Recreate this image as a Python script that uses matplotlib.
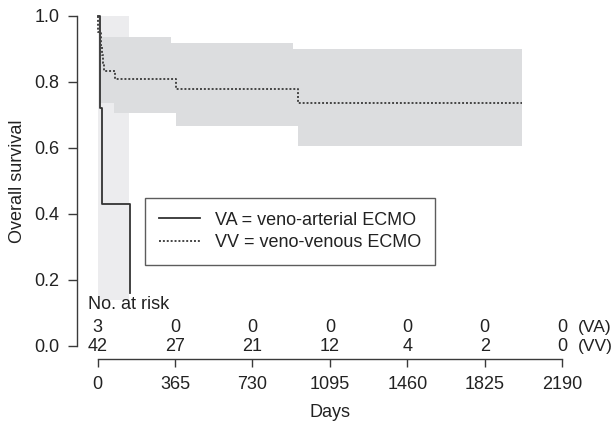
import numpy as np
import matplotlib.pyplot as plt

plt.rcParams['font.family'] = ['Liberation Sans', 'DejaVu Sans']

# Kaplan-Meier steps (days, survival)
va_days = [0, 11, 19, 153]
va_surv = [1.0, 0.72, 0.43, 0.16]
va_band_days = [0, 148]
va_upper = [1.0, 1.0]
va_lower = [0.14, 0.14]

vv_days = [0, 3, 14, 18, 22, 26, 30, 80, 370, 945, 2000]
vv_surv = [1.0, 0.952, 0.929, 0.905, 0.881, 0.857, 0.833, 0.810, 0.778, 0.736, 0.736]
vv_band_days = [0, 5, 11, 77, 346, 370, 922, 945, 2000]
vv_upper = [1.0, 1.0, 0.936, 0.936, 0.918, 0.918, 0.900, 0.900, 0.900]
vv_lower = [1.0, 0.897, 0.735, 0.705, 0.705, 0.666, 0.666, 0.605, 0.605]

ticks_days = [0, 365, 730, 1095, 1460, 1825, 2190]
risk_va = [3, 0, 0, 0, 0, 0, 0]
risk_vv = [42, 27, 21, 12, 4, 2, 0]

fs = 13
txt = '#222222'

fig = plt.figure(figsize=(6.12, 4.24), dpi=100)
ax = fig.add_axes([0.1258, 0.1533, 0.8382, 0.8231])

ax.fill_between(va_band_days, va_lower, va_upper, step='post', color='#ececee', lw=0)
ax.fill_between(vv_band_days, vv_lower, vv_upper, step='post', color='#dcdddf', lw=0)

ax.step(va_days, va_surv, where='post', color='#333333', lw=1.3,
        label='VA = veno-arterial ECMO')
ax.step(vv_days, vv_surv, where='post', color='#444444', lw=1.4,
        linestyle=(0, (1.0, 1.0)), label='VV = veno-venous ECMO')

ax.set_xlim(-97, 2321)
ax.set_ylim(-0.04, 1.018)

for s in ['top', 'right']:
    ax.spines[s].set_visible(False)
ax.spines['left'].set_bounds(0, 1)
ax.spines['bottom'].set_bounds(0, 2190)
for s in ['left', 'bottom']:
    ax.spines[s].set_color('#3a3a3a')
    ax.spines[s].set_linewidth(1.0)

ax.set_yticks([0, 0.2, 0.4, 0.6, 0.8, 1.0])
ax.set_yticklabels(['0.0', '0.2', '0.4', '0.6', '0.8', '1.0'])
ax.set_xticks(ticks_days)
ax.tick_params(axis='both', colors='#3a3a3a', labelcolor=txt,
               labelsize=fs, width=1.0)
ax.tick_params(axis='y', length=6.5, pad=6)
ax.tick_params(axis='x', length=5.5, pad=7)

ax.set_ylabel('Overall survival', fontsize=fs, color=txt)
ax.yaxis.set_label_coords(-0.100, 0.51)
ax.set_xlabel('Days', fontsize=fs, color=txt)
ax.xaxis.set_label_coords(0.493, -0.128)

# number at risk table
ax.text(-45, 0.124, 'No. at risk', fontsize=fs, color=txt, ha='left', va='center')
for d, a, v in zip(ticks_days, risk_va, risk_vv):
    ax.text(d, 0.057, str(a), fontsize=fs, color=txt, ha='center', va='center')
    ax.text(d, -0.002, str(v), fontsize=fs, color=txt, ha='center', va='center')
ax.text(2262, 0.057, '(VA)', fontsize=12.5, color=txt, ha='left', va='center')
ax.text(2262, -0.002, '(VV)', fontsize=12.5, color=txt, ha='left', va='center')

leg = ax.legend(loc='upper left', bbox_to_anchor=(0.1326, 0.461), fontsize=fs,
                frameon=True, fancybox=False, handlelength=2.3, handletextpad=0.85,
                borderpad=0.75, labelspacing=0.3, borderaxespad=0)
leg.get_frame().set_edgecolor('#333333')
leg.get_frame().set_linewidth(1.0)
for t in leg.get_texts():
    t.set_color(txt)

fig.savefig('out.png', dpi=100)
